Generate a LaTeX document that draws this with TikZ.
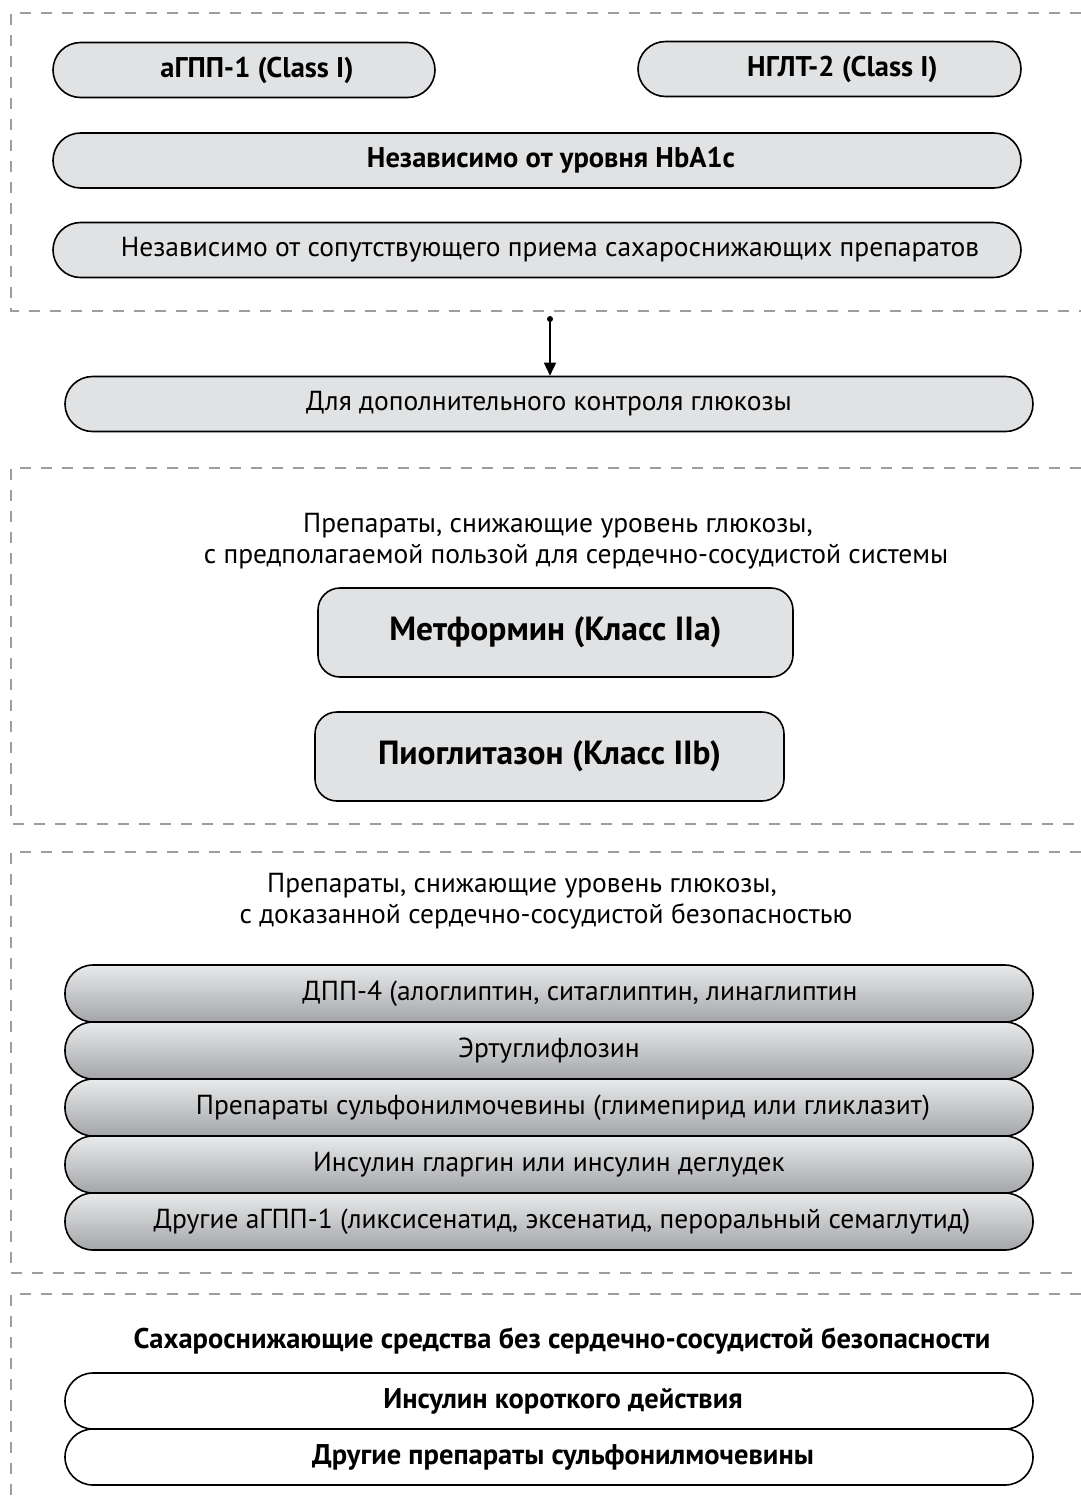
\documentclass[tikz,border=0pt]{standalone}
\usepackage{fontspec}
\setmainfont{PT Sans}
\usetikzlibrary{arrows.meta}
\definecolor{boxgray}{HTML}{E1E2E4}
\definecolor{dashgray}{HTML}{9D9D9D}
\definecolor{gradtop}{HTML}{E9EAEB}
\definecolor{gradbot}{HTML}{A3A5A8}
\tikzset{
  section/.style={draw=dashgray, line width=2pt, dash pattern=on 11pt off 10pt},
  pill/.style={draw=black, line width=1.6pt, fill=boxgray, rectangle, minimum height=55pt, rounded corners=27.5pt, inner sep=0pt, font=\fontsize{27.5}{31}\selectfont},
  pillb/.style={pill, font=\fontsize{28.5}{32}\selectfont\bfseries},
  bigbox/.style={draw=black, line width=1.6pt, fill=boxgray, rectangle, minimum height=89pt, rounded corners=22pt, inner sep=0pt, font=\fontsize{33.5}{38}\selectfont\bfseries},
  gradpill/.style={draw=black, line width=1.6pt, top color=gradtop, bottom color=gradbot, rectangle, minimum width=968pt, minimum height=57pt, rounded corners=28pt, inner sep=0pt, font=\fontsize{27.5}{31}\selectfont},
  whitepill/.style={draw=black, line width=1.6pt, fill=white, rectangle, minimum width=968pt, minimum height=56pt, rounded corners=28pt, inner sep=0pt, font=\fontsize{28.5}{32}\selectfont\bfseries},
  titletext/.style={anchor=base, inner sep=0pt, font=\fontsize{27.5}{31}\selectfont},
}
\begin{document}
\begin{tikzpicture}[x=1pt, y=-1pt]
\useasboundingbox (0,0) rectangle (1081,1505);
% dashed section frames
\draw[section] (1081,13) -- (11,13) -- (11,311) -- (1081,311);
\draw[section] (1081,468) -- (11,468) -- (11,824) -- (1081,824);
\draw[section] (1081,852) -- (11,852) -- (11,1273) -- (1081,1273);
\draw[section] (1081,1294) -- (11,1294) -- (11,1520);

% section 1
\node[pillb, minimum width=382pt] (glp) at (244,70) {\hspace{26pt}аГПП-1 (Class I)};
\node[pillb, minimum width=383pt] (sglt) at (829.5,69) {\hspace{26pt}НГЛТ-2 (Class I)};
\node[pillb, minimum width=968pt] (hba) at (537,160.5) {\hspace{28pt}Независимо от уровня HbA1c};
\node[pill, minimum width=968pt] (conc) at (537,250) {\hspace{26pt}Независимо от сопутствующего приема сахароснижающих препаратов};

% arrow
\coordinate (astart) at (550,319);
\node[pill, minimum width=968pt] (extra) at (549,404) {Для дополнительного контроля глюкозы};
\fill (astart) circle (3pt);
\draw[line width=1.4pt, -{Triangle[length=13pt, width=12pt]}] (astart) -- (extra.north -| astart);

% section 2
\node[titletext] (t2a) at (558,532) {Препараты, снижающие уровень глюкозы,};
\node[titletext] (t2b) at (576,563) {с предполагаемой пользой для сердечно-сосудистой системы};
\node[bigbox, minimum width=475pt] (met) at (555.5,632.5) {Метформин (Класс IIa)};
\node[bigbox, minimum width=469pt] (pio) at (549.5,756.5) {Пиоглитазон (Класс IIb)};

% section 3
\node[titletext] (t3a) at (522,892) {Препараты, снижающие уровень глюкозы,};
\node[titletext] (t3b) at (546,923) {с доказанной сердечно-сосудистой безопасностью};
\node[gradpill] (g1) at (549,993.5) {\hspace{62pt}ДПП-4 (алоглиптин, ситаглиптин, линаглиптин};
\node[gradpill] (g2) at (549,1050.5) {Эртуглифлозин};
\node[gradpill] (g3) at (549,1107.5) {\hspace{28pt}Препараты сульфонилмочевины (глимепирид или гликлазит)};
\node[gradpill] (g4) at (549,1164.5) {Инсулин гларгин или инсулин деглудек};
\node[gradpill] (g5) at (549,1221.5) {\hspace{26pt}Другие аГПП-1 (ликсисенатид, эксенатид, пероральный семаглутид)};

% section 4
\node[titletext, font=\fontsize{28.5}{32}\selectfont\bfseries] (t4) at (562,1348) {Сахароснижающие средства без сердечно-сосудистой безопасности};
\node[whitepill] (w1) at (549,1401) {\hspace{28pt}Инсулин короткого действия};
\node[whitepill] (w2) at (549,1457) {\hspace{28pt}Другие препараты сульфонилмочевины};
\end{tikzpicture}
\end{document}
